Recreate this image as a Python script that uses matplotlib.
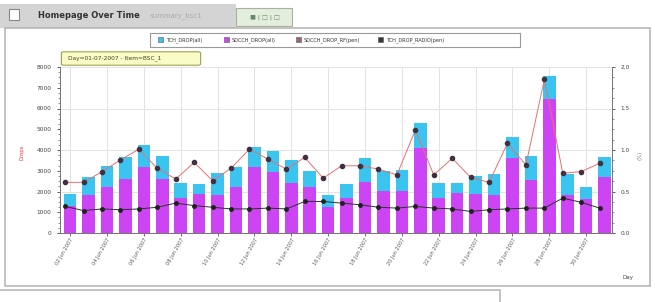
import matplotlib
matplotlib.use("Agg")
import matplotlib.pyplot as plt
from matplotlib.patches import Rectangle, FancyBboxPatch
from matplotlib.ticker import MultipleLocator, FormatStrFormatter
import numpy as np

# ---- data ----
days = ["02 Jun 2007", "03 Jun 2007", "04 Jun 2007", "05 Jun 2007", "06 Jun 2007",
        "07 Jun 2007", "08 Jun 2007", "09 Jun 2007", "10 Jun 2007", "11 Jun 2007",
        "12 Jun 2007", "13 Jun 2007", "14 Jun 2007", "15 Jun 2007", "16 Jun 2007",
        "17 Jun 2007", "18 Jun 2007", "19 Jun 2007", "20 Jun 2007", "21 Jun 2007",
        "22 Jun 2007", "23 Jun 2007", "24 Jun 2007", "25 Jun 2007", "26 Jun 2007",
        "27 Jun 2007", "28 Jun 2007", "29 Jun 2007", "30 Jun 2007", "01 Jul 2007"]
sdcch_all = [1300, 1850, 2230, 2590, 3160, 2590, 1670, 1880, 1830, 2200,
             3160, 2950, 2390, 2200, 1270, 1670, 2470, 2040, 2040, 4080,
             1670, 1910, 1880, 1830, 3600, 2550, 6440, 1830, 1620, 2680]
tch_all = [600, 850, 1000, 1090, 1080, 1120, 760, 480, 1080, 960,
           1000, 1020, 1130, 800, 560, 690, 1130, 960, 1000, 1210,
           720, 520, 870, 1010, 1010, 1160, 1130, 1010, 580, 1000]
sdcch_rf_pct = [0.61, 0.61, 0.74, 0.88, 1.01, 0.78, 0.65, 0.85, 0.63, 0.78,
                1.01, 0.89, 0.77, 0.91, 0.66, 0.81, 0.81, 0.77, 0.70, 1.24,
                0.70, 0.90, 0.67, 0.61, 1.08, 0.82, 1.85, 0.72, 0.74, 0.84]
tch_radio_pct = [0.32, 0.27, 0.29, 0.28, 0.29, 0.31, 0.36, 0.33, 0.31, 0.29,
                 0.29, 0.30, 0.29, 0.38, 0.38, 0.36, 0.34, 0.31, 0.30, 0.32,
                 0.30, 0.29, 0.26, 0.28, 0.29, 0.30, 0.30, 0.42, 0.37, 0.30]
legend_labels = ["TCH_DROP(all)", "SDCCH_DROP(all)", "SDCCH_DROP_RF(pen)", "TCH_DROP_RADIO(pen)"]

W, H = 655, 302
fig = plt.figure(figsize=(W / 100, H / 100), dpi=100)
fig.patch.set_facecolor("white")

def px(x0, y0, w, h, z=-5, **kw):
    fig.patches.append(Rectangle((x0 / W, 1 - (y0 + h) / H), w / W, h / H,
                                 transform=fig.transFigure, zorder=z, **kw))

# window frame
px(0, 4, 236, 24, facecolor="#d4d4d4", edgecolor="none")
px(236, 8, 56, 18, facecolor="#e4eedc", edgecolor="#a8b0a0", lw=0.8)
px(5, 28, 645, 258, facecolor="white", edgecolor="#b8b8b8", lw=1.2)
px(0, 289, 500, 2, facecolor="#c4c4c4", edgecolor="none")
px(499, 289, 2, 13, facecolor="#c4c4c4", edgecolor="none")
px(9, 9, 10, 11, facecolor="white", edgecolor="#888888", lw=0.8)
fig.text(38 / W, 1 - 16 / H, "Homepage Over Time", fontsize=6, fontweight="bold",
         color="#333333", va="center")
fig.text(150 / W, 1 - 16 / H, "summary_bsc1", fontsize=5, color="#aaaaaa", va="center")
fig.text(250 / W, 1 - 17 / H, "\u25a0 | \u25a1 | \u25a1", fontsize=4.5, color="#668866", va="center")

rect = [60 / W, 1 - 233 / H, 552 / W, 166 / H]
x = np.arange(len(days))
xlim = (-0.55, 29.4)

# grid-only background axes
axg = fig.add_axes(rect, zorder=0)
axg.set_xlim(*xlim)
axg.set_ylim(0, 2.0)
axg.set_xticks(x[::2])
axg.yaxis.set_major_locator(MultipleLocator(0.5))
axg.grid(True, color="#e2e2e2", lw=0.7)
axg.tick_params(length=0, labelbottom=False, labelleft=False)
for s in axg.spines.values():
    s.set_visible(False)

ax = fig.add_axes(rect, zorder=1)
ax.patch.set_alpha(0)
ax2 = ax.twinx()
ax2.set_zorder(2)
bw = 0.68
c_mag = "#cc44f4"
c_cyan = "#3cc4f0"
ax.bar(x, sdcch_all, width=bw, color=c_mag, zorder=2)
ax.bar(x, tch_all, width=bw, bottom=sdcch_all, color=c_cyan, zorder=2)
ax.set_xlim(*xlim)
ax.set_ylim(0, 8000)
ax.yaxis.set_major_locator(MultipleLocator(1000))
ax.yaxis.set_minor_locator(MultipleLocator(250))
ax.set_xticks(x[::2])
ax.set_xticklabels(days[::2], rotation=60, ha="right", rotation_mode="anchor",
                   fontsize=3.6, color="#333333")
ax.tick_params(axis="y", labelsize=4.2, colors="#444444", length=2.5, width=0.6)
ax.tick_params(axis="y", which="minor", length=1.5, width=0.5, colors="#666666")
ax.tick_params(axis="x", length=2, width=0.6, pad=1, colors="#555555")

xo = x - 0.27
ax2.plot(xo, sdcch_rf_pct, color="#e87070", lw=0.7, marker="o", ms=3,
         mfc="#403040", mec="#403040", zorder=4)
ax2.plot(xo, tch_radio_pct, color="#303030", lw=0.7, marker="o", ms=2.5,
         mfc="#202020", mec="#202020", zorder=4)
ax2.set_ylim(0, 2.0)
ax2.yaxis.set_major_locator(MultipleLocator(0.5))
ax2.yaxis.set_minor_locator(MultipleLocator(0.125))
ax2.yaxis.set_major_formatter(FormatStrFormatter("%.1f"))
ax2.tick_params(axis="y", labelsize=4.2, colors="#444444", length=2.5, width=0.6)
ax2.tick_params(axis="y", which="minor", length=1.5, width=0.5, colors="#666666")
for a in (ax, ax2):
    a.spines["top"].set_visible(False)
    for s in ("left", "right", "bottom"):
        a.spines[s].set_color("#777777")
        a.spines[s].set_linewidth(0.7)

fig.text(22 / W, 1 - 152 / H, "Drops", rotation=90, fontsize=3.8, color="#ee3344",
         ha="center", va="center")
fig.text(640 / W, 1 - 155 / H, "(%)", rotation=90, fontsize=3.8, color="#777777",
         ha="center", va="center")
fig.text(628 / W, 1 - 278 / H, "Day", fontsize=4, color="#444444", ha="center", va="center")

# legend box
px(150, 33, 370, 14, z=5, facecolor="white", edgecolor="#999999", lw=0.8)
leg_cols = ["#3cc4f0", "#cc44f4", "#a06080", "#403040"]
lx = [158, 224, 296, 378]
for xx, col, lab in zip(lx, leg_cols, legend_labels):
    px(xx, 37, 5, 5, z=6, facecolor=col, edgecolor="#555555", lw=0.4)
    fig.text((xx + 8) / W, 1 - 40 / H, lab, fontsize=3.6, color="#333333", va="center",
             zorder=7)

# tooltip
fig.patches.append(FancyBboxPatch((64 / W, 1 - 64 / H), 134 / W, 11 / H,
                                  boxstyle="round,pad=0.004",
                                  transform=fig.transFigure, zorder=5,
                                  facecolor="#fafcc8", edgecolor="#a0a050", lw=0.8))
fig.text(68 / W, 1 - 58.5 / H, "Day=01-07-2007 - Item=BSC_1", fontsize=4.2,
         color="#444422", va="center", zorder=7)

fig.savefig("out.png", dpi=100)
